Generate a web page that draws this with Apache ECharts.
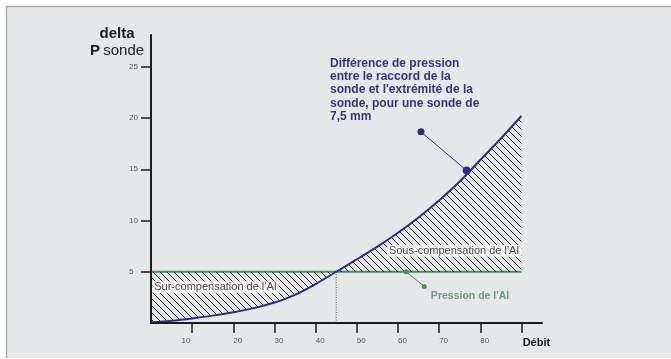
<!DOCTYPE html>
<html>
<head>
<meta charset="utf-8">
<script src="https://cdn.jsdelivr.net/npm/echarts@6/dist/echarts.min.js"></script>
<style>html,body{margin:0;padding:0;background:#fff;}#c{width:671px;height:359px;}</style>
</head>
<body>
<div id="c"></div>
<script>
// ---- data ----
const debit = [0, 5, 10, 15, 20, 25, 30, 35, 40, 45, 50, 55, 60, 65, 70, 75, 80, 85, 90];
const deltaP = [0.05, 0.22, 0.45, 0.72, 1.05, 1.45, 2.0, 2.75, 3.8, 5.0, 6.2, 7.45, 8.8, 10.3, 11.95, 13.8, 15.9, 18.0, 20.2];
const pressionAI = [5, 5, 5, 5, 5, 5, 5, 5, 5, 5, 5, 5, 5, 5, 5, 5, 5, 5, 5];
const pressionLevel = 5;
const xTickValues = [10, 20, 30, 40, 50, 60, 70, 80, 90];
const yTickValues = [5, 10, 15, 20, 25];
const crossLine = [[45, 0], [45, 5]];
const bluePointer = [[65.6, 18.65], [76.7, 14.87]];
const greenPointer = [[62, 5], [66.4, 3.57]];
const areaLabels = [
  { text: "Sur-compensation de l'AI", at: [0.3, 3.5], side: 'right' },
  { text: "Sous-compensation de l'AI", at: [90, 7.06], side: 'left' }
];
const greenLabel = { text: "Pression de l'AI", at: [68.0, 2.67] };
const annotation = "Différence de pression\nentre le raccord de la\nsonde et l'extrémité de la\nsonde, pour une sonde de\n7,5 mm";
const xName = 'Débit';

const PANEL = '#e6e7e9';
function hatch() {
  const s = 14;
  const c = document.createElement('canvas');
  c.width = s; c.height = s;
  const g = c.getContext('2d');
  g.strokeStyle = '#151515';
  g.lineWidth = 1;
  g.beginPath();
  for (const k of [-s, -s / 2, 0, s / 2, s]) { g.moveTo(k, 0); g.lineTo(k + s, s); }
  g.stroke();
  return c;
}

const FONT = '"Liberation Sans", Arial, Helvetica, sans-serif';
const NAVY = '#2e2d7f';
const GREEN = '#4d8b61';

const chart = echarts.init(document.getElementById('c'), null, { renderer: 'canvas' });
chart.setOption({
  animation: false,
  backgroundColor: '#ffffff',
  textStyle: { fontFamily: FONT },
  grid: { left: 151, right: 129, top: 35, bottom: 36 },
  graphic: [
    { type: 'rect', z: -10, shape: { x: 6, y: 6, width: 665, height: 352 }, style: { fill: PANEL } },
    { type: 'line', z: -9, shape: { x1: 6.5, y1: 6, x2: 6.5, y2: 358 }, style: { stroke: '#a9aaac', lineWidth: 1.5 } },
    { type: 'line', z: -9, shape: { x1: 6, y1: 6.5, x2: 671, y2: 6.5 }, style: { stroke: '#a9aaac', lineWidth: 1.5 } },
    { type: 'text', x: 117, y: 34, style: { text: 'delta', fontFamily: FONT, fontSize: 15, fontWeight: 'bold', fill: '#222', align: 'center', verticalAlign: 'middle' } },
    { type: 'text', x: 117, y: 51, style: { text: '{b|P} {r|sonde}', fontFamily: FONT, align: 'center', verticalAlign: 'middle',
        rich: { b: { fontSize: 15, fontWeight: 'bold', fill: '#222', fontFamily: FONT }, r: { fontSize: 15, fill: '#222', fontFamily: FONT } } } },
    { type: 'text', x: 330, y: 56.5, style: { text: annotation, fontFamily: FONT, fontSize: 12, fontWeight: 'bold', fill: '#36367f', lineHeight: 13.4, align: 'left', verticalAlign: 'top' } }
  ],
  xAxis: {
    type: 'value', min: 0, max: 95, z: 10,
    axisLine: { onZero: false, lineStyle: { color: '#1c1c1c', width: 2 } },
    axisTick: { show: true, customValues: xTickValues, length: 10, lineStyle: { color: '#1c1c1c', width: 1.5 } },
    axisLabel: {
      show: true, customValues: xTickValues, margin: 14, align: 'center',
      formatter: v => v === 90 ? '{d|' + xName + '}' : (v === 10 ? '{f|' + v + '}' : '{n|' + v + '}'),
      rich: {
        n: { fontSize: 8, color: '#555', fontFamily: FONT, padding: [0, 0, 0, 9] },
        f: { fontSize: 8, color: '#555', fontFamily: FONT, padding: [0, 12.5, 0, 0] },
        d: { fontSize: 11, fontWeight: 'bold', color: '#222', fontFamily: FONT, padding: [0, 0, 0, 30] }
      }
    },
    splitLine: { show: false }
  },
  yAxis: {
    type: 'value', min: 0, max: 28.1, z: 10,
    axisLine: { show: true, lineStyle: { color: '#1c1c1c', width: 2 } },
    axisTick: { show: true, customValues: yTickValues, length: 10, lineStyle: { color: '#1c1c1c', width: 1.5 } },
    axisLabel: { show: true, customValues: yTickValues, margin: 22, align: 'left', verticalAlign: 'middle', padding: [0, 0, 5, 0], fontSize: 8, color: '#555', fontFamily: FONT },
    splitLine: { show: false }
  },
  series: [
    { type: 'line', data: crossLine, symbol: 'none', lineStyle: { color: '#555', width: 1, type: [1, 1.5] }, z: 2 },
    { type: 'line', data: debit.map((x, i) => [x, pressionAI[i]]), symbol: 'none', lineStyle: { color: GREEN, width: 2 }, z: 3 },
    { type: 'line', data: debit.map((x, i) => [x, deltaP[i]]), symbol: 'none', smooth: 0.35,
      lineStyle: { color: NAVY, width: 2 },
      areaStyle: { color: { image: hatch(), repeat: 'repeat' }, opacity: 1, origin: pressionLevel }, z: 4 },
    { type: 'line', data: bluePointer, symbol: 'circle', symbolSize: (v, p) => p.dataIndex === 0 ? 7 : 8,
      itemStyle: { color: NAVY }, lineStyle: { color: NAVY, width: 1 }, z: 5 },
    { type: 'line', data: greenPointer, symbol: 'circle', symbolSize: 5,
      itemStyle: { color: GREEN }, lineStyle: { color: GREEN, width: 1 }, z: 5 },
    { type: 'scatter', symbolSize: 0, z: 6, silent: true,
      data: areaLabels.map(l => ({ value: l.at, label: { show: true, formatter: l.text, position: l.side, distance: 0,
        fontSize: 11, color: '#222', fontFamily: FONT, backgroundColor: '#ffffff', padding: [0, 2, 0, 2], lineHeight: 12 } })) },
    { type: 'scatter', symbolSize: 0, z: 6, silent: true,
      data: [{ value: greenLabel.at, label: { show: true, formatter: greenLabel.text, position: 'right', distance: 0,
        fontSize: 10.5, fontWeight: 'bold', color: GREEN, fontFamily: FONT } }] }
  ]
});
</script>
</body>
</html>
